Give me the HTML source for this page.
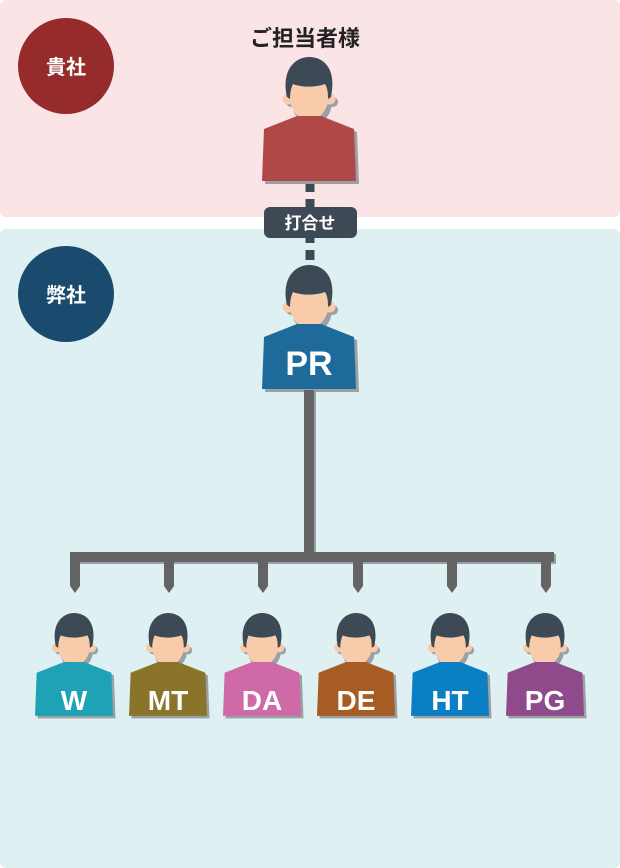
<!DOCTYPE html>
<html><head><meta charset="utf-8"><style>
body{margin:0;width:620px;height:868px;overflow:hidden;background:#fff}
svg{display:block}
text{font-family:"Liberation Sans","Noto Sans CJK JP",sans-serif;font-weight:bold}
</style></head><body>
<svg width="620" height="868" viewBox="0 0 620 868">
<defs>
<g id="p">
  <polygon points="38,62 62,62 95,75 97,127 3,127 5,75" fill="#9aa0a3"/>
  <circle cx="29" cy="45" r="5" fill="#9aa0a3"/>
  <circle cx="71" cy="45" r="5" fill="#9aa0a3"/>
  <ellipse cx="50" cy="45" rx="20" ry="23" fill="#9aa0a3"/>
  <circle cx="26" cy="42" r="5.5" fill="#f8ccaa"/>
  <circle cx="68" cy="42" r="5.5" fill="#f8ccaa"/>
  <path d="M27,36 C27,52 36,63 47,64 C58,63 67,52 67,36 L67,24 L27,24 Z" fill="#f8ccaa"/>
  <path d="M25,40 C19,12 34,0 47,0 C62,0 75,12 69,40 L66,42 C66,34 65,30 63,27 C52,31 38,30 31,27 C29,31 28,36 28,42 Z" fill="#3d4a55"/>
</g>
</defs>
<rect x="0" y="0" width="620" height="217" rx="6" fill="#fbe4e6"/>
<rect x="0" y="229" width="620" height="639" rx="6" fill="#dff0f2"/>
<circle cx="66" cy="66" r="48" fill="#962b2c"/>
<text x="66" y="74" font-size="20" fill="#fff" text-anchor="middle">貴社</text>
<circle cx="66" cy="294" r="48" fill="#1a4a6e"/>
<text x="66" y="302" font-size="20" fill="#fff" text-anchor="middle">弊社</text>
<text x="305" y="46" font-size="22" fill="#222" text-anchor="middle">ご担当者様</text>
<line x1="310" y1="182" x2="310" y2="266" stroke="#3d4a55" stroke-width="9" stroke-dasharray="10,7"/>
<rect x="264" y="207" width="93" height="31" rx="6" fill="#3d4a55"/>
<text x="310" y="229" font-size="17" fill="#fff" text-anchor="middle">打合せ</text>
<g transform="translate(262,57)"><use href="#p"/><polygon points="35,59 59,59 92,72 94,124 0,124 2,72" fill="#b04848"/></g>
<g transform="translate(262,265)"><use href="#p"/><polygon points="35,59 59,59 92,72 94,124 0,124 2,72" fill="#1e6a9a"/></g>
<text x="309" y="375" font-size="34" fill="#fff" text-anchor="middle">PR</text>
<g fill="#9aa0a3" transform="translate(2,2)">
<rect x="304" y="390" width="10" height="168"/><rect x="70" y="552" width="484" height="10"/>
</g>
<g fill="#646464">
<rect x="304" y="390" width="10" height="168"/>
<rect x="70" y="552" width="484" height="10"/>
<polygon points="70,562 80,562 80,586 75,593 70,586"/>
<polygon points="164,562 174,562 174,586 169,593 164,586"/>
<polygon points="258,562 268,562 268,586 263,593 258,586"/>
<polygon points="353,562 363,562 363,586 358,593 353,586"/>
<polygon points="447,562 457,562 457,586 452,593 447,586"/>
<polygon points="541,562 551,562 551,586 546,593 541,586"/>
</g>
<g transform="translate(35,613) scale(0.83)"><use href="#p"/><polygon points="35,59 59,59 92,72 94,124 0,124 2,72" fill="#1fa2b6"/></g>
<g transform="translate(129,613) scale(0.83)"><use href="#p"/><polygon points="35,59 59,59 92,72 94,124 0,124 2,72" fill="#8a7429"/></g>
<g transform="translate(223,613) scale(0.83)"><use href="#p"/><polygon points="35,59 59,59 92,72 94,124 0,124 2,72" fill="#cf69a7"/></g>
<g transform="translate(317,613) scale(0.83)"><use href="#p"/><polygon points="35,59 59,59 92,72 94,124 0,124 2,72" fill="#a65c22"/></g>
<g transform="translate(411,613) scale(0.83)"><use href="#p"/><polygon points="35,59 59,59 92,72 94,124 0,124 2,72" fill="#0a7fc4"/></g>
<g transform="translate(506,613) scale(0.83)"><use href="#p"/><polygon points="35,59 59,59 92,72 94,124 0,124 2,72" fill="#8e4a8a"/></g>
<g font-size="28" fill="#fff" text-anchor="middle">
<text x="74" y="710">W</text><text x="168" y="710">MT</text><text x="262" y="710">DA</text>
<text x="356" y="710">DE</text><text x="450" y="710">HT</text><text x="545" y="710">PG</text>
</g>
</svg>
</body></html>
